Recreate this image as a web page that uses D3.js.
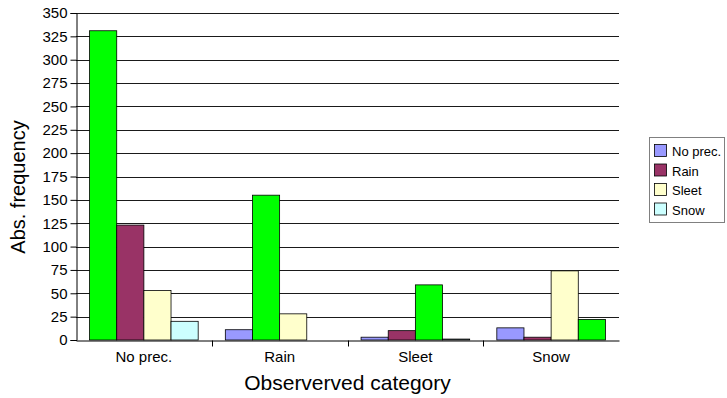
<!DOCTYPE html>
<html>
<head>
<meta charset="utf-8">
<script src="https://cdn.jsdelivr.net/npm/d3@7"></script>
<style>
  html, body { margin: 0; padding: 0; background: #fff; }
  svg { display: block; font-family: "Liberation Sans", Arial, sans-serif; }
</style>
</head>
<body>
<svg id="chart" width="727" height="398"></svg>
<script>
// Observed category on the x axis, forecast category as the series
const categories = ["No prec.", "Rain", "Sleet", "Snow"];
const seriesNames = ["No prec.", "Rain", "Sleet", "Snow"];
const noPrecValues = [331, 11, 3, 13];
const rainValues = [123, 155, 10, 3];
const sleetValues = [53, 28, 59, 74];
const snowValues = [20, 0, 1, 22];
const yTicks = [0, 25, 50, 75, 100, 125, 150, 175, 200, 225, 250, 275, 300, 325, 350];

const seriesColors = ["#9999FF", "#993366", "#FFFFCC", "#CCFFFF"];
const hitColor = "#00FF00"; // forecast equals observation

const seriesValues = [noPrecValues, rainValues, sleetValues, snowValues];
const rows = [];
categories.forEach((cat, ci) => {
  seriesNames.forEach((s, si) => {
    rows.push({ cat, ci, s, si, v: seriesValues[si][ci] });
  });
});

const svg = d3.select("#chart");
const plot = { left: 76, right: 619, top: 13, bottom: 340 };

const x0 = d3.scaleBand().domain(categories).range([plot.left, plot.right]).padding(0);
const x1 = d3.scaleBand().domain(seriesNames).range([0, x0.bandwidth()])
  .paddingInner(0).paddingOuter(0.5);
const y = d3.scaleLinear().domain([0, 350]).range([plot.bottom, plot.top]);

// horizontal gridlines
svg.append("g")
  .selectAll("line")
  .data(yTicks.filter(t => t > 0))
  .join("line")
  .attr("x1", plot.left).attr("x2", plot.right)
  .attr("y1", d => Math.round(y(d)) + 0.5).attr("y2", d => Math.round(y(d)) + 0.5)
  .attr("stroke", "#1a1a1a").attr("stroke-width", 1);

// bars
svg.append("g")
  .selectAll("rect")
  .data(rows)
  .join("rect")
  .attr("x", d => x0(d.cat) + x1(d.s))
  .attr("y", d => y(d.v))
  .attr("width", x1.bandwidth())
  .attr("height", d => y(0) - y(d.v))
  .attr("fill", d => d.ci === d.si ? hitColor : seriesColors[d.si])
  .attr("stroke", "#000").attr("stroke-width", 0.8);

// y axis
const yAxis = svg.append("g")
  .attr("transform", `translate(${plot.left + 0.5},0)`)
  .call(d3.axisLeft(y).tickValues(yTicks).tickSize(6).tickPadding(3));
yAxis.select(".domain").attr("stroke", "#000");
yAxis.selectAll(".tick text").attr("font-size", 15).attr("fill", "#000")
  .style("font-family", "Liberation Sans, Arial, sans-serif");

// x axis
const xAxis = svg.append("g")
  .attr("transform", `translate(0,${plot.bottom + 0.5})`)
  .call(d3.axisBottom(x0).tickSize(0).tickPadding(11).tickSizeOuter(0));
xAxis.select(".domain").attr("stroke", "#000");
xAxis.selectAll(".tick text").attr("font-size", 15).attr("fill", "#000")
  .style("font-family", "Liberation Sans, Arial, sans-serif");
// boundary ticks between categories
xAxis.append("g")
  .selectAll("line")
  .data(categories.slice(1))
  .join("line")
  .attr("x1", d => Math.round(x0(d)) + 0.5).attr("x2", d => Math.round(x0(d)) + 0.5)
  .attr("y1", 0).attr("y2", 6)
  .attr("stroke", "#000");

// axis titles
svg.append("text")
  .attr("x", (plot.left + plot.right) / 2)
  .attr("y", 390)
  .attr("text-anchor", "middle")
  .attr("font-size", 21)
  .text("Observerved category");

svg.append("text")
  .attr("transform", `translate(25,187) rotate(-90)`)
  .attr("text-anchor", "middle")
  .attr("font-size", 20)
  .text("Abs. frequency");

// legend
const legend = svg.append("g").attr("transform", "translate(649,137)");
legend.append("rect")
  .attr("x", 0.5).attr("y", 0.5).attr("width", 75).attr("height", 85)
  .attr("fill", "#fff").attr("stroke", "#808080");
seriesNames.forEach((s, i) => {
  const cy = 14 + i * 19.5;
  legend.append("rect")
    .attr("x", 5.5).attr("y", cy - 6.5).attr("width", 12).attr("height", 12)
    .attr("fill", seriesColors[i]).attr("stroke", "#000").attr("stroke-width", 0.8);
  legend.append("text")
    .attr("x", 23).attr("y", cy + 5)
    .attr("font-size", 13)
    .text(s);
});
</script>
</body>
</html>
